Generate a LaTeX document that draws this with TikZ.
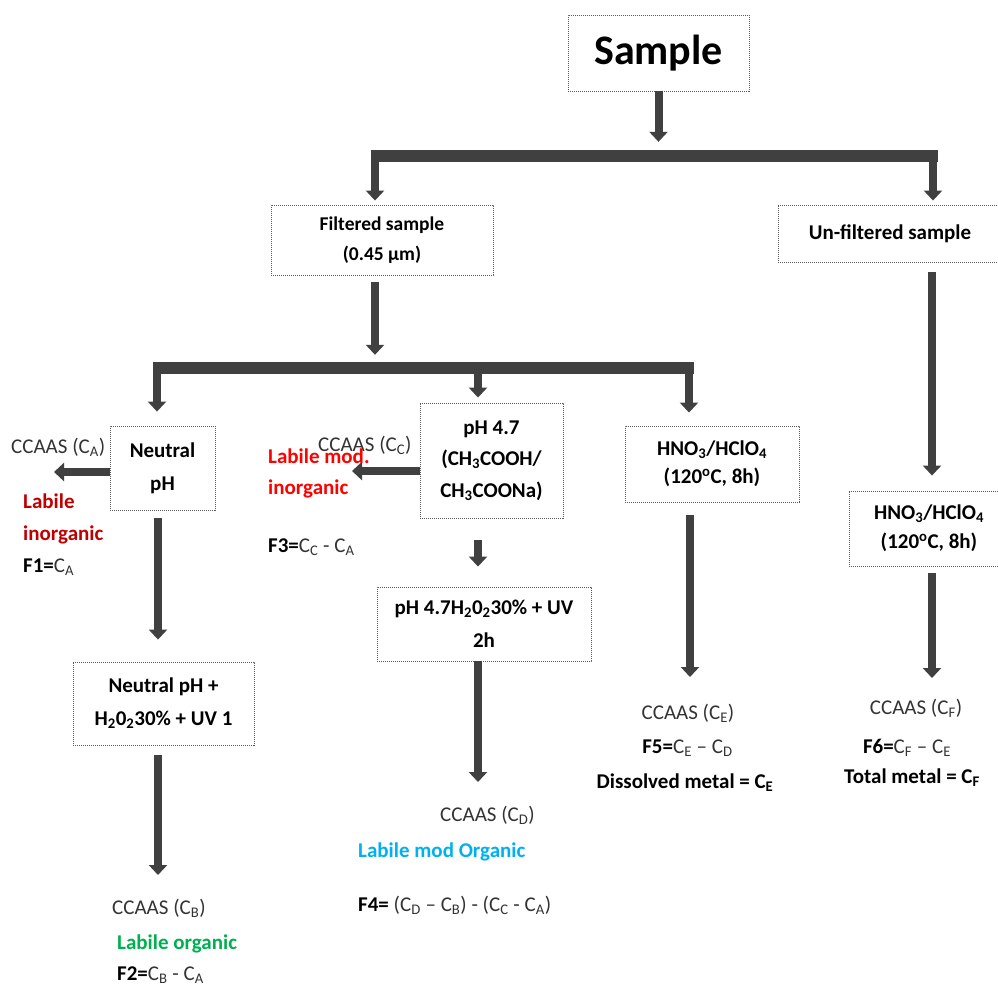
\documentclass[tikz,border=0pt]{standalone}
\usepackage{fontspec}
\setmainfont{Carlito}
\usetikzlibrary{arrows.meta}
\definecolor{darkg}{HTML}{404040}
\definecolor{lblred}{HTML}{C00000}
\definecolor{brightred}{HTML}{FF0000}
\definecolor{lblgreen}{HTML}{00B050}
\definecolor{lblblue}{HTML}{00B0F0}
\tikzset{
  box/.style={draw=black!65, dash pattern=on 1.2pt off 0.8pt, line width=0.9pt, inner sep=0pt, align=center, text=black, font=\bfseries\fontsize{21}{33}\selectfont},
  arr/.style={draw=darkg, line width=8pt, -{Triangle[width=18pt,length=10pt]}},
  bar/.style={fill=darkg, inner sep=0pt, minimum height=12pt},
  lbl/.style={anchor=west, inner sep=0pt, text=black!80, font=\fontsize{21}{26}\selectfont},
  clbl/.style={anchor=center, inner sep=0pt, text=black!80, font=\fontsize{21}{26}\selectfont},
}
\begin{document}
\begin{tikzpicture}[x=1pt,y=-1pt]
\useasboundingbox (0,0) rectangle (998,986);

% boxes
\node[box, minimum width=181pt, minimum height=76pt, font=\bfseries\fontsize{42}{48}\selectfont] (sample) at (658.5,53) {Sample};
\node[box, minimum width=222pt, minimum height=70pt, font=\bfseries\fontsize{19.5}{30}\selectfont] (filt) at (382,240) {Filtered sample\\(0.45 µm)};
\node[box, minimum width=224pt, minimum height=57pt] (unfilt) at (890,233.5) {Un-filtered sample};
\node[box, minimum width=105pt, minimum height=84pt] (neutral) at (162.5,468) {Neutral\\pH};
\node[box, minimum width=143pt, minimum height=115pt, font=\bfseries\fontsize{21}{31.5}\selectfont] (ph47) at (491.5,460.5) {pH 4.7\\(CH\textsubscript{3}COOH/\\CH\textsubscript{3}COONa)};
\node[box, minimum width=214pt, minimum height=74pt] (ph47b) at (484,624) {pH 4.7H\textsubscript{2}0\textsubscript{2}30\% + UV\\2h};
\node[box, minimum width=181pt, minimum height=83pt] (neutral2) at (163.5,703.5) {Neutral pH +\\H\textsubscript{2}0\textsubscript{2}30\% + UV 1};
\node[box, minimum width=174pt, minimum height=76pt, font=\bfseries\fontsize{21}{28}\selectfont] (hno3a) at (712,464) {HNO\textsubscript{3}/HClO\textsubscript{4}\\(120\textsuperscript{o}C, 8h)};
\node[box, minimum width=160pt, minimum height=75pt, font=\bfseries\fontsize{21}{29}\selectfont] (hno3b) at (929,528.5) {HNO\textsubscript{3}/HClO\textsubscript{4}\\(120\textsuperscript{o}C, 8h)};

% bars
\node[bar, minimum width=567pt] (bar1) at (654.5,156) {};
\node[bar, minimum width=541pt] (bar2) at (423.5,368) {};

% helper coordinates
\coordinate (xF) at (375,0);
\coordinate (xU) at (933,0);
\coordinate (xA) at (157,0);
\coordinate (xB) at (158,0);
\coordinate (xC) at (478,0);
\coordinate (xE) at (689,0);
\coordinate (tA) at (54,472);
\coordinate (tC) at (352,471);
\coordinate (tB) at (158,875);
\coordinate (tD) at (478,782);
\coordinate (tE) at (690,677);
\coordinate (tF) at (932,678);

% arrows
\draw[arr, shorten >=8pt] (sample.south) -- (sample.south |- bar1.north);
\draw[arr, shorten >=4pt] (bar1 -| xF) -- (filt.north -| xF);
\draw[arr, shorten >=4pt] (bar1 -| xU) -- (unfilt.north -| xU);
\draw[arr, shorten <=7pt, shorten >=7pt] (filt.south -| xF) -- (bar2.north -| xF);
\draw[arr, shorten >=14pt] (bar2 -| xA) -- (neutral.north -| xA);
\draw[arr, shorten >=5pt] (bar2 -| xC) -- (ph47.north -| xC);
\draw[arr, shorten >=13pt] (bar2 -| xE) -- (hno3a.north -| xE);
\draw[arr, shorten <=10pt, shorten >=15pt] (unfilt.south -| tF) -- (hno3b.north -| tF);
\draw[arr] (neutral.west |- tA) -- (tA);
\draw[arr] (ph47.west |- tC) -- (tC);
\draw[arr, shorten <=8pt, shorten >=22pt] (neutral.south -| xB) -- (neutral2.north -| xB);
\draw[arr, shorten <=22pt, shorten >=20pt] (ph47.south -| xC) -- (ph47b.north -| xC);
\draw[arr, shorten <=10pt] (neutral2.south -| tB) -- (tB);
\draw[arr] (ph47b.south -| tD) -- (tD);
\draw[arr, shorten <=13pt] (hno3a.south -| tE) -- (tE);
\draw[arr, shorten <=7pt] (hno3b.south -| tF) -- (tF);

% labels left branch
\node[lbl] (ccA) at (11,447) {CCAAS (C\textsubscript{A})};
\node[lbl, text=lblred, font=\bfseries\fontsize{21}{32}\selectfont, align=left] (labA) at (23,519) {Labile\\inorganic};
\node[lbl] (f1) at (23,567) {\textbf{\color{black}F1=}C\textsubscript{A}};

% labels pH 4.7 branch
\node[lbl] (ccC) at (318,445) {CCAAS (C\textsubscript{C})};
\node[lbl, text=brightred, font=\bfseries\fontsize{21}{31}\selectfont, align=left] (labC) at (268,473.5) {Labile mod.\\inorganic};
\node[lbl] (f3) at (268,547) {\textbf{\color{black}F3=}C\textsubscript{C} - C\textsubscript{A}};

% labels neutral pH + branch
\node[lbl] (ccB) at (112,908) {CCAAS (C\textsubscript{B})};
\node[lbl, text=lblgreen, font=\bfseries\fontsize{21}{26}\selectfont] (labB) at (117,944) {Labile organic};
\node[lbl] (f2) at (117,975) {\textbf{\color{black}F2=}C\textsubscript{B} - C\textsubscript{A}};

% labels pH 4.7 + UV branch
\node[lbl] (ccD) at (440,815) {CCAAS (C\textsubscript{D})};
\node[lbl, text=lblblue, font=\bfseries\fontsize{21}{26}\selectfont] (labD) at (358,852) {Labile mod Organic};
\node[lbl] (f4) at (358,905) {\textbf{\color{black}F4=} (C\textsubscript{D} – C\textsubscript{B}) - (C\textsubscript{C} - C\textsubscript{A})};

% labels HNO3 filtered
\node[clbl] (ccE) at (688,713) {CCAAS (C\textsubscript{E})};
\node[clbl] (f5) at (687.5,748) {\textbf{\color{black}F5=}C\textsubscript{E} – C\textsubscript{D}};
\node[clbl, text=black, font=\bfseries\fontsize{21}{26}\selectfont] (dis) at (685,783) {Dissolved metal = C\textsubscript{E}};

% labels HNO3 unfiltered
\node[clbl] (ccF) at (916,708) {CCAAS (C\textsubscript{F})};
\node[clbl] (f6) at (907,748) {\textbf{\color{black}F6=}C\textsubscript{F} – C\textsubscript{E}};
\node[clbl, text=black, font=\bfseries\fontsize{21}{26}\selectfont] (tot) at (912,778) {Total metal = C\textsubscript{F}};
\end{tikzpicture}
\end{document}
